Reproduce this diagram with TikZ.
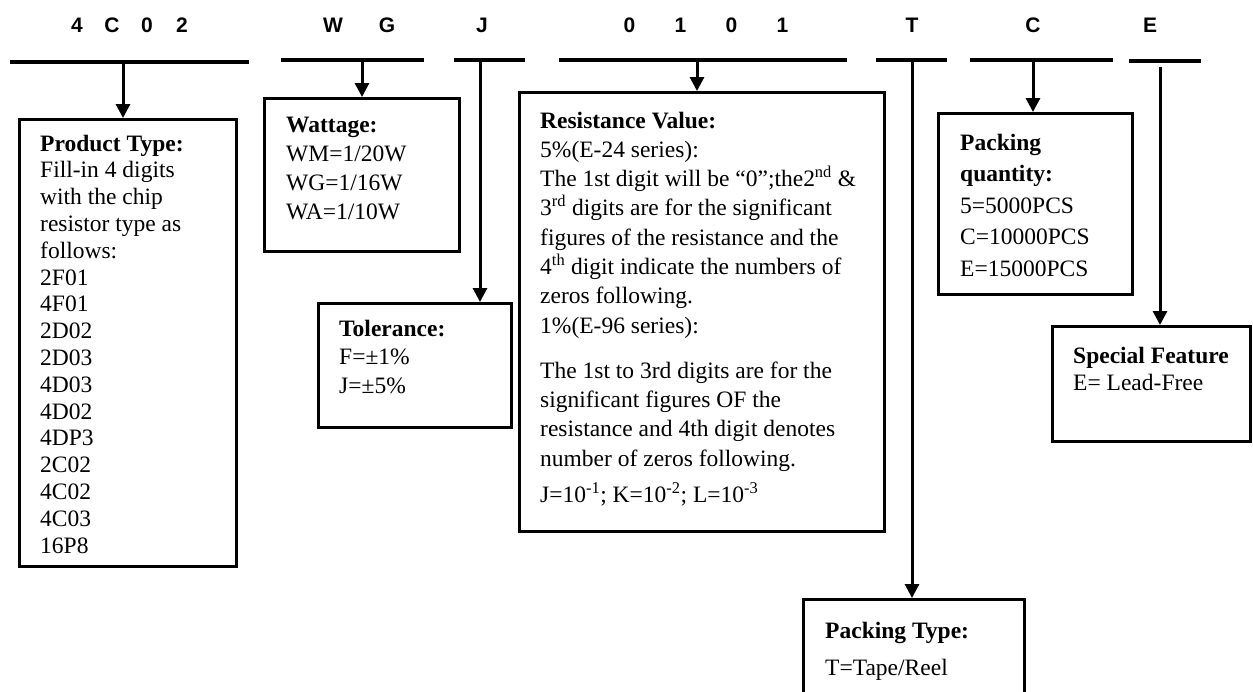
\documentclass[tikz,border=0pt]{standalone}
\usepackage{fontspec}
\setmainfont{Liberation Serif}
\newfontfamily\codefont{Liberation Sans}
\usepackage{tikz}
\usetikzlibrary{arrows.meta,positioning,calc}

\begin{document}
\begin{tikzpicture}[
    x=1pt, y=-1pt,
    code/.style={
        anchor=base,
        inner sep=0pt,
        font=\codefont\bfseries\fontsize{21}{25}\selectfont
    },
    bar/.style={line width=4.5pt},
    spec/.style={draw, line width=3pt, anchor=north west, inner sep=0pt},
    info/.style={anchor=north west, inner sep=0pt, align=left},
    link/.style={line width=3pt, -{Triangle[length=14pt,width=14pt]}}
]
\useasboundingbox (0,0) rectangle (1253,691);

% ---------------- Code letters ----------------
\node[code] (c-type) at (129.5,32)
    {\makebox[35pt]{4}\makebox[35pt]{C}\makebox[35pt]{0}\makebox[35pt]{2}};
\node[code] (c-watt) at (360,32) {\makebox[54pt]{W}\makebox[54pt]{G}};
\node[code] (c-tol) at (482,32) {J};
\node[code] (c-res) at (706,32)
    {\makebox[51pt]{0}\makebox[51pt]{1}\makebox[51pt]{0}\makebox[51pt]{1}};
\node[code] (c-pack) at (912,32) {T};
\node[code] (c-qty) at (1033,32) {C};
\node[code] (c-feat) at (1150,32) {E};

% ---------------- Underlines ----------------
\foreach \xa/\xb/\yb in {10/249/62, 281/424/60, 454/525/60, 559/847/60,
                         876/947/60, 970/1113/60, 1129/1201/61}
    \draw[bar] (\xa,\yb) -- (\xb,\yb);

\coordinate (s-type) at (123,62);
\coordinate (s-watt) at (362,60);
\coordinate (s-tol)  at (480,60);
\coordinate (s-res)  at (697,60);
\coordinate (s-pack) at (912,60);
\coordinate (s-qty)  at (1033,60);
\coordinate (s-feat) at (1160,67);

% ---------------- Boxes ----------------
\node[spec, minimum width=217pt, minimum height=447pt] (ptype) at (18,118) {};
\node[spec, minimum width=195pt, minimum height=153pt] (watt) at (263,97) {};
\node[spec, minimum width=193pt, minimum height=124pt] (tol) at (317,302) {};
\node[spec, minimum width=365pt, minimum height=439pt] (resval) at (518,91) {};
\node[spec, minimum width=194pt, minimum height=181pt] (packqty) at (937,112) {};
\node[spec, minimum width=198pt, minimum height=115pt] (feat) at (1051,325) {};
\node[spec, minimum width=221pt, minimum height=100pt] (packtype) at (802,598) {};

% ---------------- Texts ----------------
\node[info, font=\fontsize{23.5}{26.8}\selectfont] (ptype-txt)
    at ([xshift=22pt,yshift=-16.5pt]ptype.north west)
    {\textbf{Product Type:}\\Fill-in 4 digits\\with the chip\\resistor type as\\follows:\\
     2F01\\4F01\\2D02\\2D03\\4D03\\4D02\\4DP3\\2C02\\4C02\\4C03\\16P8};
\node[info, font=\fontsize{23.5}{29.3}\selectfont] (watt-txt)
    at ([xshift=23pt,yshift=-19.5pt]watt.north west)
    {\textbf{Wattage:}\\WM=1/20W\\WG=1/16W\\WA=1/10W};
\node[info, font=\fontsize{23.5}{28.5}\selectfont] (tol-txt)
    at ([xshift=22pt,yshift=-17.5pt]tol.north west)
    {\textbf{Tolerance:}\\F=±1\%\\J=±5\%};
\node[info, font=\fontsize{23.5}{29.3}\selectfont] (resval-txt)
    at ([xshift=22pt,yshift=-20.5pt]resval.north west)
    {\textbf{Resistance Value:}\\5\%(E-24 series):\\
     The 1st digit will be “0”;the2\textsuperscript{nd} \&\\
     3\textsuperscript{rd} digits are for the significant\\
     figures of the resistance and the\\
     4\textsuperscript{th} digit indicate the numbers of\\
     zeros following.\\1\%(E-96 series):\\[15.7pt]
     The 1st to 3rd digits are for the\\significant figures OF the\\
     resistance and 4th digit denotes\\number of zeros following.\\[7pt]
     J=10\textsuperscript{-1}; K=10\textsuperscript{-2}; L=10\textsuperscript{-3}};
\node[info, font=\fontsize{23.5}{31.5}\selectfont] (packqty-txt)
    at ([xshift=23pt,yshift=-21.5pt]packqty.north west)
    {\textbf{Packing}\\\textbf{quantity:}\\5=5000PCS\\C=10000PCS\\E=15000PCS};
\node[info, font=\fontsize{23.5}{27}\selectfont] (feat-txt)
    at ([xshift=22pt,yshift=-21.5pt]feat.north west)
    {\textbf{Special Feature}\\E= Lead-Free};
\node[info, font=\fontsize{23.5}{37}\selectfont] (packtype-txt)
    at ([xshift=23pt,yshift=-23.5pt]packtype.north west)
    {\textbf{Packing Type:}\\T=Tape/Reel};

% ---------------- Arrows ----------------
\draw[link] (s-type) -- (ptype.north -| s-type);
\draw[link] (s-watt) -- (watt.north -| s-watt);
\draw[link] (s-tol)  -- (tol.north -| s-tol);
\draw[link] (s-res)  -- (resval.north -| s-res);
\draw[link] (s-pack) -- (packtype.north -| s-pack);
\draw[link] (s-qty)  -- (packqty.north -| s-qty);
\draw[link] (s-feat) -- (feat.north -| s-feat);

\end{tikzpicture}
\end{document}
